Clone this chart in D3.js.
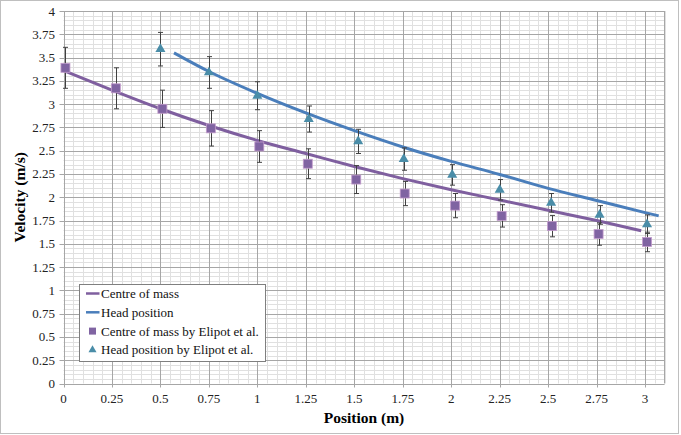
<!DOCTYPE html>
<html lang="en">
  <head>
    <meta charset="UTF-8" />
    <title>Velocity vs Position</title>
    <script src="https://d3js.org/d3.v7.min.js"></script>
    <style>
      body { margin: 0; background: #fff; }
      svg { display: block; }
      svg text { font-family: "Liberation Serif", "Times New Roman", serif; }
    </style>
  </head>
  <body>
    <svg width="681" height="435"></svg>

    <script>
      // model curves
      const comPos = [0, 0.25, 0.5, 0.75, 1.0, 1.25, 1.5, 1.75, 2.0, 2.25, 2.5, 2.75, 2.98];
      const comVel = [3.36, 3.15, 2.95, 2.77, 2.61, 2.47, 2.33, 2.2, 2.08, 1.97, 1.86, 1.75, 1.64];

      const headPos = [0.57, 0.75, 1.0, 1.25, 1.5, 1.75, 2.0, 2.25, 2.5, 2.75, 3.0, 3.07];
      const headVel = [3.55, 3.35, 3.115, 2.905, 2.715, 2.54, 2.385, 2.245, 2.095, 1.965, 1.835, 1.8];

      // Elipot et al. measurements
      const elipotComPos = [0.01, 0.27, 0.51, 0.76, 1.01, 1.26, 1.51, 1.76, 2.02, 2.26, 2.52, 2.76, 3.01];
      const elipotComVel = [3.39, 3.17, 2.95, 2.74, 2.545, 2.36, 2.19, 2.04, 1.91, 1.8, 1.69, 1.605, 1.52];
      const elipotComErr = [0.22, 0.22, 0.2, 0.19, 0.17, 0.16, 0.15, 0.13, 0.13, 0.12, 0.115, 0.12, 0.105];

      const elipotHeadPos = [0.5, 0.75, 1.0, 1.265, 1.52, 1.755, 2.005, 2.25, 2.515, 2.765, 3.01];
      const elipotHeadVel = [3.59, 3.34, 3.09, 2.84, 2.6, 2.41, 2.24, 2.08, 1.94, 1.81, 1.71];
      const elipotHeadErr = [0.18, 0.17, 0.15, 0.14, 0.13, 0.12, 0.11, 0.11, 0.1, 0.1, 0.1];

      const xTicks = ["0", "0.25", "0.5", "0.75", "1", "1.25", "1.5", "1.75", "2", "2.25", "2.5", "2.75", "3"];
      const yTicks = ["0", "0.25", "0.5", "0.75", "1", "1.25", "1.5", "1.75", "2", "2.25", "2.5", "2.75", "3", "3.25", "3.5", "3.75", "4"];

      const legendLabels = ["Centre of mass", "Head position", "Centre of mass by Elipot et al.", "Head position by Elipot et al."];

      const purple = "#7f5f9f";
      const blue = "#4a7ebb";
      const squareFill = "#8064a2";
      const triFill = "#4a8da8";

      const svg = d3.select("svg");

      // chart border
      svg.append("rect")
        .attr("x", 0.5).attr("y", 0.5)
        .attr("width", 678).attr("height", 433)
        .attr("fill", "#fff").attr("stroke", "#bfbfbf");

      const plotL = 63.5, plotR = 664.5, plotT = 11, plotB = 383.5;
      const x = d3.scaleLinear().domain([0, 3.1]).range([plotL, plotR]);
      const y = d3.scaleLinear().domain([0, 4]).range([plotB, plotT]);

      const grid = svg.append("g");
      // minor gridlines every 0.05
      d3.range(0, 3.1001, 0.05).forEach(v => {
        grid.append("line")
          .attr("x1", Math.round(x(v)) + 0.5).attr("x2", Math.round(x(v)) + 0.5)
          .attr("y1", plotT).attr("y2", plotB)
          .attr("stroke", "#e0e0e0").attr("stroke-width", 1);
      });
      d3.range(0, 4.0001, 0.05).forEach(v => {
        grid.append("line")
          .attr("x1", plotL).attr("x2", plotR)
          .attr("y1", Math.round(y(v)) + 0.5).attr("y2", Math.round(y(v)) + 0.5)
          .attr("stroke", "#e0e0e0").attr("stroke-width", 1);
      });
      // major gridlines
      xTicks.forEach(t => {
        const px = Math.round(x(+t)) + 0.5;
        grid.append("line")
          .attr("x1", px).attr("x2", px).attr("y1", plotT).attr("y2", plotB + 4)
          .attr("stroke", "#a6a6a6");
      });
      yTicks.forEach(t => {
        const py = Math.round(y(+t)) + 0.5;
        grid.append("line")
          .attr("x1", plotL - 4).attr("x2", plotR).attr("y1", py).attr("y2", py)
          .attr("stroke", "#a6a6a6");
      });
      grid.append("line")
        .attr("x1", plotR).attr("x2", plotR).attr("y1", plotT).attr("y2", plotB)
        .attr("stroke", "#a6a6a6");

      // tick labels
      svg.append("g").selectAll("text").data(xTicks).join("text")
        .attr("x", d => x(+d)).attr("y", 403)
        .attr("text-anchor", "middle")
        .attr("font-size", 13).attr("fill", "#222")
        .text(d => d);
      svg.append("g").selectAll("text").data(yTicks).join("text")
        .attr("x", 55).attr("y", d => y(+d) + 4.5)
        .attr("text-anchor", "end")
        .attr("font-size", 13).attr("fill", "#222")
        .text(d => d);

      // axis titles
      svg.append("text")
        .attr("x", (plotL + plotR) / 2).attr("y", 423)
        .attr("text-anchor", "middle")
        .attr("font-size", 15.5).attr("font-weight", "bold")
        .text("Position (m)");
      svg.append("text")
        .attr("transform", `translate(25, ${(plotT + plotB) / 2}) rotate(-90)`)
        .attr("text-anchor", "middle")
        .attr("font-size", 15.5).attr("font-weight", "bold")
        .text("Velocity (m/s)");

      // model lines
      const line = d3.line().x(d => x(d[0])).y(d => y(d[1])).curve(d3.curveMonotoneX);
      svg.append("path")
        .attr("d", line(d3.zip(comPos, comVel)))
        .attr("fill", "none").attr("stroke", purple).attr("stroke-width", 3);
      svg.append("path")
        .attr("d", line(d3.zip(headPos, headVel)))
        .attr("fill", "none").attr("stroke", blue).attr("stroke-width", 3);

      // error bars
      function errorBars(xs, vs, es) {
        const g = svg.append("g").attr("stroke", "#404040").attr("stroke-width", 1);
        xs.forEach((xv, i) => {
          const px = Math.round(x(xv)) + 0.5;
          const y1 = y(vs[i] + es[i]), y2 = y(vs[i] - es[i]);
          g.append("line").attr("x1", px).attr("x2", px).attr("y1", y1).attr("y2", y2);
          g.append("line").attr("x1", px - 2.5).attr("x2", px + 2.5).attr("y1", y1).attr("y2", y1);
          g.append("line").attr("x1", px - 2.5).attr("x2", px + 2.5).attr("y1", y2).attr("y2", y2);
        });
      }
      errorBars(elipotComPos, elipotComVel, elipotComErr);
      errorBars(elipotHeadPos, elipotHeadVel, elipotHeadErr);

      // markers
      svg.append("g").selectAll("rect").data(d3.zip(elipotComPos, elipotComVel)).join("rect")
        .attr("x", d => x(d[0]) - 4.5).attr("y", d => y(d[1]) - 4.5)
        .attr("width", 9).attr("height", 9)
        .attr("fill", squareFill).attr("stroke", "#c39ccc").attr("stroke-width", 0.8);
      const tri = d3.symbol().type(d3.symbolTriangle).size(44);
      svg.append("g").selectAll("path").data(d3.zip(elipotHeadPos, elipotHeadVel)).join("path")
        .attr("d", tri)
        .attr("transform", d => `translate(${x(d[0])}, ${y(d[1])})`)
        .attr("fill", triFill);

      // legend
      const lg = svg.append("g");
      lg.append("rect")
        .attr("x", 79.5).attr("y", 284.5).attr("width", 186).attr("height", 77)
        .attr("fill", "#fff").attr("stroke", "#7f7f7f");
      legendLabels.forEach((label, i) => {
        const cy = 293.5 + i * 18.8;
        if (i < 2) {
          lg.append("line")
            .attr("x1", 86).attr("x2", 99.5).attr("y1", cy).attr("y2", cy)
            .attr("stroke", i === 0 ? purple : blue).attr("stroke-width", 2.5);
        } else if (i === 2) {
          lg.append("rect")
            .attr("x", 89).attr("y", cy - 3.5).attr("width", 7).attr("height", 7)
            .attr("fill", squareFill);
        } else {
          lg.append("path")
            .attr("d", d3.symbol().type(d3.symbolTriangle).size(28))
            .attr("transform", `translate(92.5, ${cy})`)
            .attr("fill", triFill);
        }
        lg.append("text")
          .attr("x", 101).attr("y", cy + 4.5)
          .attr("font-size", 13).attr("fill", "#111")
          .text(label);
      });
    </script>
  </body>
</html>
